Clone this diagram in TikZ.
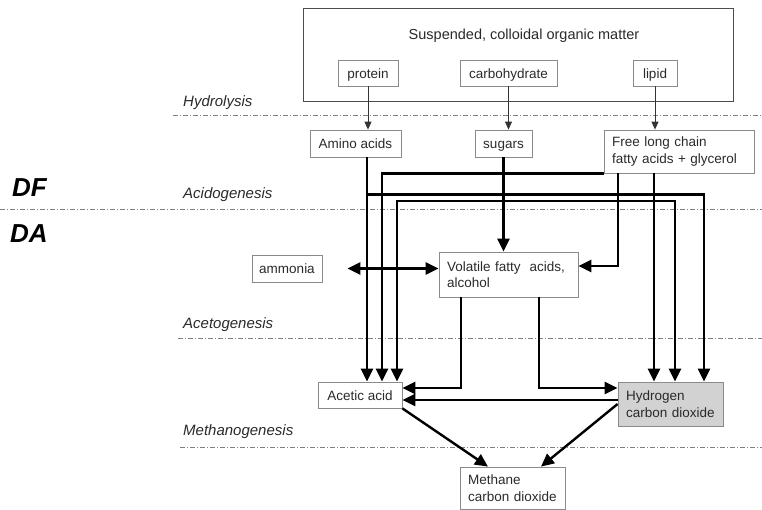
\documentclass[tikz,border=0pt]{standalone}
\usepackage{fontspec}
\setmainfont{Liberation Sans}
\usetikzlibrary{arrows.meta,calc}
\definecolor{boxgray}{HTML}{8A8A8A}
\definecolor{txtgray}{HTML}{2A2A2A}
\definecolor{hfill}{HTML}{D2D2D2}
\begin{document}
\begin{tikzpicture}[x=1pt,y=-1pt,>={Triangle[length=13pt,width=12pt]},
   every node/.style={font=\fontsize{13.5}{16.5}\selectfont,text=txtgray},
   box/.style={draw=boxgray,line width=0.8pt,inner sep=0pt,minimum height=26pt,text height=11pt,text depth=0pt},
   lbox/.style={draw=boxgray,line width=0.8pt,align=left,inner xsep=8pt,inner ysep=0pt},
   stagelbl/.style={font=\fontsize{15}{18}\selectfont\itshape,anchor=west,inner sep=0pt},
   partlbl/.style={font=\fontsize{26}{28}\selectfont\bfseries\itshape,text=black,anchor=west,inner sep=0pt},
   stage/.style={draw=gray,line width=0.8pt,dash pattern=on 5pt off 2pt on 1pt off 2pt},
   feed/.style={-{Triangle[length=8pt,width=7pt]},line width=0.9pt,draw=black!80},
   flow/.style={->,line width=2.4pt}]
  \useasboundingbox (0,0) rectangle (762,510);
  \draw[stage] (173,115) -- (762,115);
  \draw[stage] (0,209) -- (762,209);
  \draw[stage] (178,338) -- (762,338);
  \draw[stage] (180,447) -- (762,447);
  \node[stagelbl] (hydl) at (183,103) {Hydrolysis};
  \node[stagelbl] (acidl) at (183,195) {Acidogenesis};
  \node[stagelbl] (acetl) at (183,325) {Acetogenesis};
  \node[stagelbl] (methl) at (183,432) {Methanogenesis};
  \node[partlbl] (df) at (12,188) {DF};
  \node[partlbl] (da) at (10,234) {DA};
  \node[box,draw=black!70,minimum width=430pt,minimum height=93pt] (om) at (518,54.5) {};
  \node[font=\fontsize{14.5}{17}\selectfont] (omt) at (524,36) {Suspended, colloidal organic matter};
  \node[box,minimum width=60pt] (prot) at (368,73) {protein};
  \node[box,minimum width=97pt] (carb) at (508.5,73) {carbohydrate};
  \node[box,minimum width=44pt] (lip) at (655,73) {lipid};
  \node[box,minimum width=91pt,minimum height=27pt] (amino) at (355.5,143.5) {Amino acids};
  \node[box,minimum width=57pt,minimum height=27pt] (sug) at (503.5,143.5) {sugars};
  \node[lbox,text width=134pt,minimum height=43pt] (flc) at (679,151.5) {Free long chain\\fatty acids + glycerol};
  \node[box,minimum width=70pt,minimum height=27pt] (amm) at (287,268.5) {ammonia};
  \node[lbox,text width=123pt,minimum height=45pt] (vfa) at (508.5,274.5) {Volatile fatty\ \ acids,\\alcohol};
  \node[box,minimum width=84pt] (acet) at (360,395) {Acetic acid};
  \node[lbox,text width=89pt,minimum height=44pt,fill=hfill] (hyd) at (670.5,404) {Hydrogen\\carbon dioxide};
  \node[lbox,text width=89pt,minimum height=42pt] (meth) at (512.5,488) {Methane\\carbon dioxide};
  \draw[feed] (prot.south) -- (prot.south |- amino.north);
  \draw[feed] (carb.south) -- (carb.south |- sug.north);
  \draw[feed] (lip.south) -- (lip.south |- flc.north);
  \draw[flow] ([xshift=11.5pt]amino.south) -- ([xshift=7pt]acet.north);
  \draw[flow] ([xshift=11.5pt]amino.south) -- ++(0,37) -| ([xshift=33.5pt]hyd.north);
  \draw[flow] (flc.south west) -| ([xshift=22pt]acet.north);
  \coordinate (sj) at (sug.south |- 0,201);
  \draw[flow] (sj) -| ([xshift=37pt]acet.north);
  \draw[flow] (sj) -| ([xshift=4.5pt]hyd.north);
  \draw[flow] (sug.south) -- (sug.south |- vfa.north);
  \draw[flow] ([xshift=-61pt]flc.south) |- ([yshift=8.5pt]vfa.east);
  \draw[flow] ([xshift=-25pt]flc.south) -- ([xshift=-16.5pt]hyd.north);
  \draw[flow,<->] ([xshift=25pt]amm.east) -- (vfa.west |- amm.east);
  \draw[flow] ([xshift=-47.5pt]vfa.south) |- ([yshift=7pt]acet.east);
  \draw[flow] ([xshift=30.5pt]vfa.south) |- ([yshift=16pt]hyd.west);
  \draw[flow] ([yshift=4pt]hyd.west) -- ([yshift=4pt]hyd.west -| acet.east);
  \draw[flow] (acet.south east) -- ([xshift=-24.5pt]meth.north);
  \draw[flow] (hyd.west) -- ([xshift=28.5pt]meth.north);
\end{tikzpicture}
\end{document}
